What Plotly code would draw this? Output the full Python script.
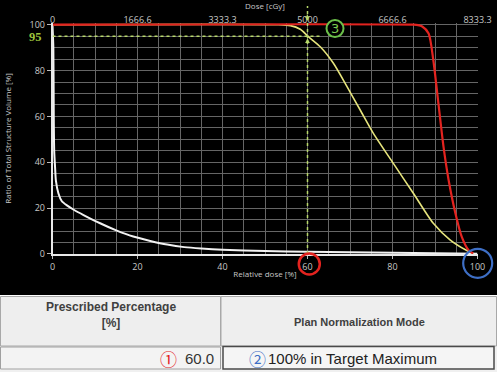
import plotly.graph_objects as go

W, H = 497, 384

# ---------------- data ----------------
red_x = [0, 85, 86, 87, 88.5, 89.6, 90.8, 92, 93.2, 94.8, 96.3, 97.9, 99]
red_y = [100, 100, 99.8, 99.2, 96.2, 84.6, 65.7, 46.8, 32.3, 17.8, 7.5, 1.7, 0.2]

yel_x = [0, 53, 56, 58.3, 60.2, 63, 66.1, 69.3, 72.4, 75.5, 80.2, 84.9, 89.6, 93.6, 97.5, 99]
yel_y = [100, 100, 99.6, 98, 94.8, 90.4, 83.2, 73, 62.8, 52.6, 39.5, 26.5, 13.4, 6.1, 1.5, 0.2]

wht_x = [0, 0.2, 0.3, 0.4, 0.6, 0.8, 1.4, 2.2, 3.4, 5, 7.3, 11.2, 15, 19, 23, 27, 31, 35, 40, 50, 60, 70, 80, 90, 100]
wht_y = [100, 90, 60, 45, 38, 32, 26.4, 23, 21.2, 19.3, 17, 13.4, 10.3, 7.6, 5.7, 4.1, 3.0, 2.4, 1.9, 1.3, 1.0, 0.8, 0.6, 0.3, 0.1]

rel_ticks = [0, 20, 40, 60, 80, 100]
vol_ticks = [0, 20, 40, 60, 80, 100]
dose_ticks = [0, 1666.6, 3333.3, 5000, 6666.6, 8333.3]
dose_labels = ["0", "1666.6", "3333.3", "5000", "6666.6", "8333.3"]

prescribed_pct = 60.0
target_vol = 95
# --------------------------------------

def px(x):
    return x / W

def py(y):
    return (H - y) / H

X0, X1 = 52.5, 477.5
Y100, Y0 = 24.7, 254.0
YMAX = 100.8
YTOP = Y0 - (Y0 - Y100) * YMAX / 100.0

fig = go.Figure()

fig.add_trace(go.Scatter(x=wht_x, y=wht_y, mode="lines", line=dict(color="#f2f2f2", width=2, shape="spline", smoothing=0.6), hoverinfo="skip"))
fig.add_trace(go.Scatter(x=yel_x, y=yel_y, mode="lines", line=dict(color="#e6e47c", width=1.6, shape="spline", smoothing=0.7), hoverinfo="skip"))
fig.add_trace(go.Scatter(x=red_x, y=red_y, mode="lines", line=dict(color="#e3231f", width=2.2, shape="spline", smoothing=0.7), hoverinfo="skip"))
# dummy trace for top dose axis
fig.add_trace(go.Scatter(x=[0, 8333.3], y=[-50, -50], xaxis="x2", mode="markers", marker=dict(opacity=0), hoverinfo="skip"))

tickfont = dict(family="Open Sans", size=9, color="#c8c8c8")
grid = "#666666"

fig.update_layout(
    width=W, height=H,
    margin=dict(l=0, r=0, t=0, b=0, autoexpand=False),
    paper_bgcolor="black", plot_bgcolor="black",
    showlegend=False,
    xaxis=dict(domain=[px(X0), px(X1)], range=[0, 100], tickvals=rel_ticks, ticktext=[str(v) for v in rel_ticks],
               automargin=False,
               showgrid=True, gridcolor=grid, gridwidth=1, zeroline=False,
               minor=dict(dtick=5, showgrid=True, gridcolor=grid, gridwidth=1),
               showline=True, linecolor="#e8e8e8", linewidth=2,
               ticks="outside", ticklen=3, tickcolor="#bbbbbb", tickfont=tickfont,
               title=dict(text="Relative dose [%]", font=dict(family="Open Sans", size=8, color="#c8c8c8"), standoff=0)),
    yaxis=dict(domain=[py(Y0), py(YTOP)], range=[0, YMAX], tickvals=vol_ticks,
               automargin=False,
               showgrid=True, gridcolor=grid, gridwidth=1, zeroline=False,
               minor=dict(dtick=5, showgrid=True, gridcolor=grid, gridwidth=1),
               showline=True, linecolor="#e8e8e8", linewidth=1.5,
               ticks="outside", ticklen=4, tickcolor="#bbbbbb", tickfont=tickfont,
               title=dict(text="Ratio of Total Structure Volume [%]", font=dict(family="Open Sans", size=8, color="#c8c8c8"), standoff=17)),
    xaxis2=dict(overlaying="x", side="top", anchor="free", position=py(Y100), range=[0, 8333.3], tickvals=dose_ticks, ticktext=dose_labels,
                automargin=False,
                showgrid=False, zeroline=False, showline=False, ticks="", tickfont=tickfont,
                title=dict(text="Dose [cGy]", font=dict(family="Open Sans", size=8, color="#c8c8c8"), standoff=2)),
)

shapes = []
green = "#b8d86a"
# dotted guide lines
shapes.append(dict(type="line", xref="x", yref="y", x0=0, x1=63.4, y0=target_vol, y1=target_vol,
                   line=dict(color=green, width=1.5, dash="dot")))
shapes.append(dict(type="line", xref="x", yref="paper", x0=prescribed_pct, x1=prescribed_pct, y0=py(Y0), y1=py(6),
                   line=dict(color=green, width=1.5, dash="dot")))

def circle(cx, cy, r, color, width, fill="rgba(0,0,0,0)"):
    return dict(type="circle", xref="paper", yref="paper",
                x0=px(cx - r), x1=px(cx + r), y0=py(cy + r), y1=py(cy - r),
                line=dict(color=color, width=width), fillcolor=fill, layer="above")

shapes.append(circle(335, 28.5, 8.5, "#6cc04a", 2, "black"))
shapes.append(circle(309.3, 264, 10.5, "#e3231f", 2.5))
shapes.append(circle(477.7, 263.3, 14.5, "#3e6fc6", 2.2))

# table area
def rect(x0, y0, x1, y1, fill, lc="rgba(0,0,0,0)", lw=0):
    return dict(type="rect", xref="paper", yref="paper", x0=px(x0), x1=px(x1), y0=py(y1), y1=py(y0),
                fillcolor=fill, line=dict(color=lc, width=lw), layer="above")

shapes.append(rect(0, 295, W, H, "white"))
shapes.append(rect(0, 296, W, 372, "#f0f0f0"))
shapes.append(rect(0.5, 296.5, 220.5, 346, "#eeeeee", "#a8a8a8", 1))
shapes.append(rect(221, 296.5, 496.5, 346, "#eeeeee", "#a8a8a8", 1))
shapes.append(rect(0.5, 347, 220.5, 369, "#f3f3f3", "#a0a0a0", 1))
shapes.append(rect(223, 346.5, 494, 369, "#f5f5f5", "#4a4a4a", 1.5))

fig.update_layout(shapes=shapes)

ann = []
ann.append(dict(x=px(35), y=py(37), xref="paper", yref="paper", text="<b>95</b>", showarrow=False,
                font=dict(family="Liberation Serif", size=12.5, color="#9cc43c"), xanchor="center", yanchor="middle"))
ann.append(dict(x=px(335), y=py(28.5), xref="paper", yref="paper", text="3", showarrow=False,
                font=dict(family="DejaVu Sans", size=13, color="#7ccc50"), xanchor="center", yanchor="middle"))
# small arrows on guide line
ann.append(dict(x=prescribed_pct, y=target_vol, xref="x", yref="y", ax=0, ay=9, text="", showarrow=True,
                arrowhead=2, arrowsize=0.8, arrowwidth=1.2, arrowcolor=green, standoff=2))
ann.append(dict(x=px(307.3), y=py(21), xref="paper", yref="paper", ax=0, ay=-8, text="", showarrow=True,
                arrowhead=2, arrowsize=0.8, arrowwidth=1.2, arrowcolor=green))
# table text
tfont = dict(family="Liberation Sans", size=12, color="#404040")
ann.append(dict(x=px(110.5), y=py(315), xref="paper", yref="paper", text="<b>Prescribed Percentage</b><br><b>[%]</b>",
                showarrow=False, font=tfont, xanchor="center", yanchor="middle", align="center"))
ann.append(dict(x=px(359), y=py(322), xref="paper", yref="paper", text="<b>Plan Normalization Mode</b>",
                showarrow=False, font=dict(family="Liberation Sans", size=11, color="#404040"), xanchor="center", yanchor="middle"))
ann.append(dict(x=px(216), y=py(358.5), xref="paper", yref="paper", text=f"{prescribed_pct:.1f}",
                showarrow=False, font=dict(family="Liberation Sans", size=15, color="#333333"), xanchor="right", yanchor="middle"))
ann.append(dict(x=px(168), y=py(358), xref="paper", yref="paper", text="①",
                showarrow=False, font=dict(family="Noto Sans CJK JP", size=17, color="#e3231f"), xanchor="center", yanchor="middle"))
ann.append(dict(x=px(257), y=py(358), xref="paper", yref="paper", text="②",
                showarrow=False, font=dict(family="Noto Sans CJK JP", size=17, color="#3e6fc6"), xanchor="center", yanchor="middle"))
ann.append(dict(x=px(266), y=py(358.5), xref="paper", yref="paper", text="100% in Target Maximum",
                showarrow=False, font=dict(family="Liberation Sans", size=15, color="#222222"), xanchor="left", yanchor="middle"))
fig.update_layout(annotations=ann)

fig.write_html("out.html")
